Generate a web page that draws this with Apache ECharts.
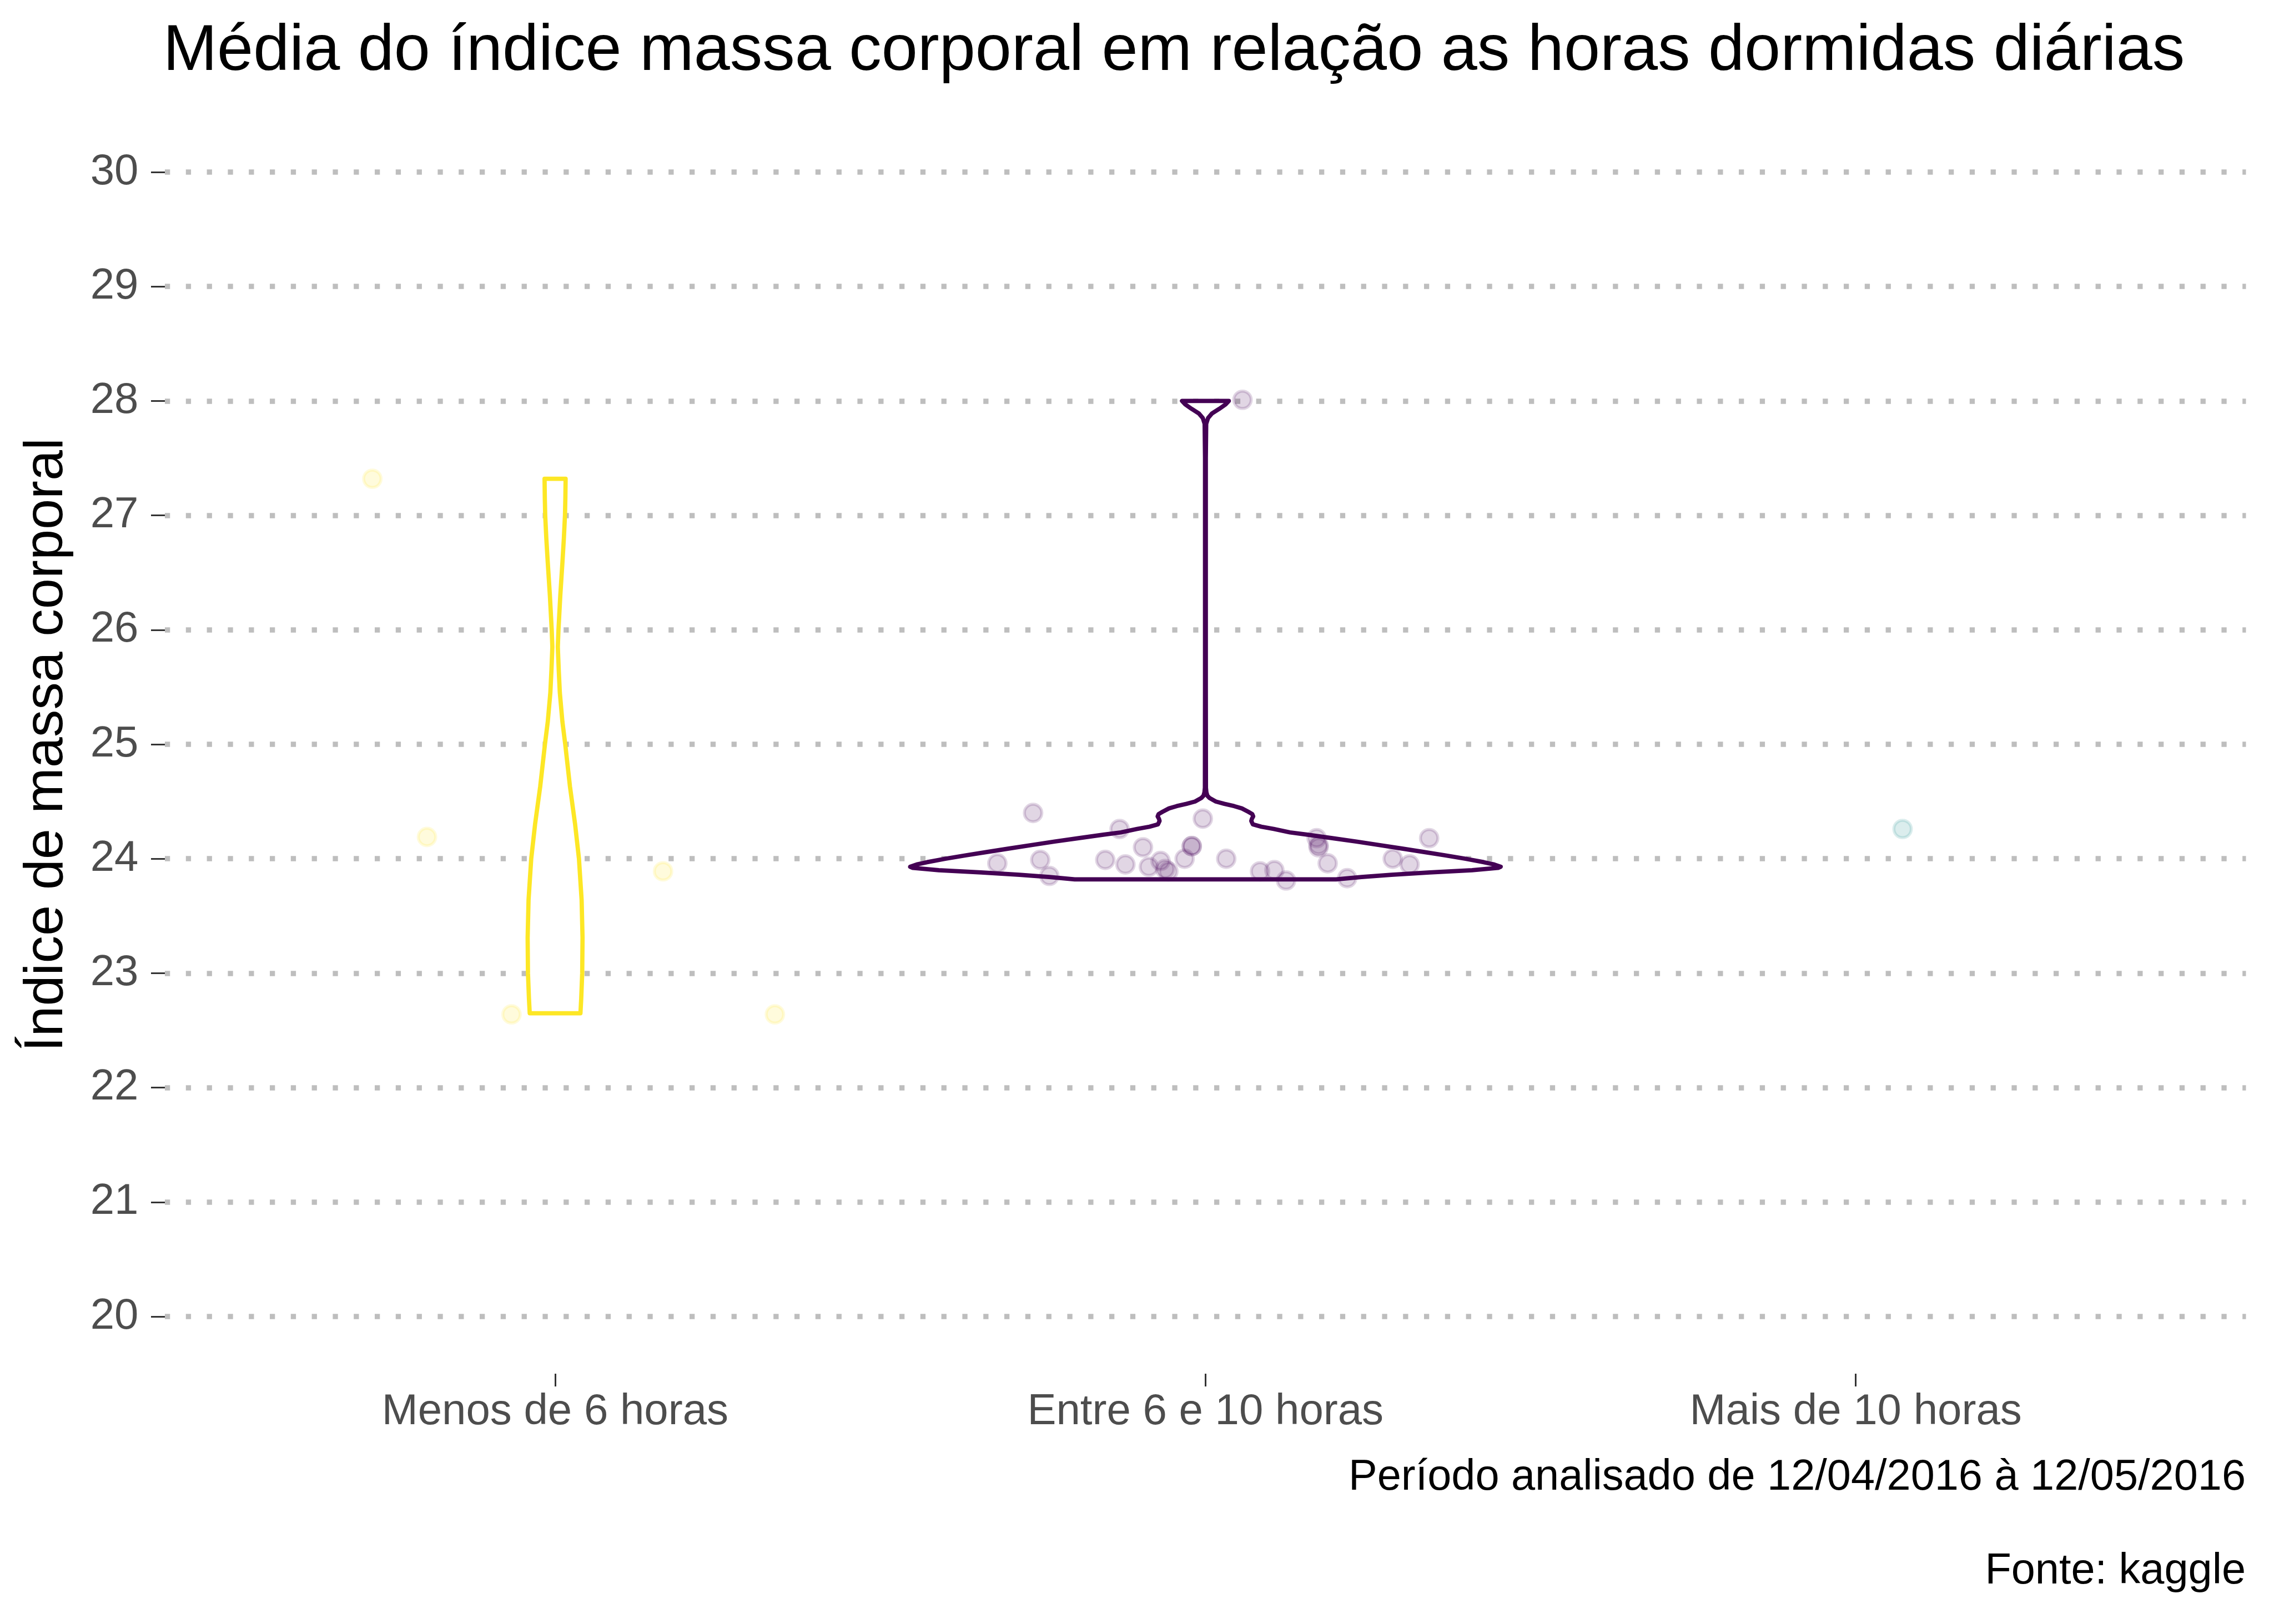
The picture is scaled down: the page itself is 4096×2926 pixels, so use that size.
<!DOCTYPE html>
<html>
<head>
<meta charset="utf-8">
<script src="https://cdn.jsdelivr.net/npm/echarts@6/dist/echarts.min.js"></script>
<style>
html,body{margin:0;padding:0;background:#ffffff;}
#chart{width:4096px;height:2926px;}
</style>
</head>
<body>
<div id="chart"></div>
<script>
// ---------------- DATA ----------------
const categories = ['Menos de 6 horas', 'Entre 6 e 10 horas', 'Mais de 10 horas'];
const groupColors = ['#FDE725', '#440154', '#21908C'];
const yMin = 20, yMax = 30, yStep = 1;

const titleText = 'Média do índice massa corporal em relação as horas dormidas diárias';
const yTitleText = 'Índice de massa corporal';
const captionLine1 = 'Período analisado de 12/04/2016 à 12/05/2016';
const captionLine2 = 'Fonte: kaggle';

// violin outlines: BMI levels (top to bottom) and half widths (in category units)
const violinMenosBmi = [27.32, 27.15, 27.0, 26.8, 26.6, 26.3, 26.0, 25.85, 25.65, 25.45, 25.2, 25.0, 24.63, 24.3, 24.0, 23.64, 23.31, 23.0, 22.78, 22.65];
const violinMenosHalf = [0.0162, 0.0158, 0.0152, 0.0135, 0.0114, 0.0080, 0.0052, 0.0042, 0.0056, 0.0073, 0.0112, 0.0156, 0.0229, 0.0308, 0.0367, 0.0408, 0.0422, 0.0417, 0.0402, 0.0390];

const violinEntreBmi = [28.00, 27.97, 27.93, 27.89, 27.85, 27.80, 27.50, 26.50, 25.50, 24.62, 24.58, 24.55, 24.53, 24.50, 24.48, 24.46, 24.44, 24.41, 24.39, 24.37, 24.35, 24.33, 24.30, 24.28, 24.26, 24.23, 24.21, 24.18, 24.15, 24.12, 24.09, 24.06, 24.03, 24.00, 23.97, 23.95, 23.93, 23.92, 23.90, 23.88, 23.86, 23.84, 23.82];
const violinEntreHalf = [0.036, 0.031, 0.021, 0.010, 0.004, 0.0012, 0.0006, 0.0006, 0.0006, 0.0008, 0.0015, 0.0030, 0.0065, 0.016, 0.029, 0.044, 0.056, 0.066, 0.072, 0.0735, 0.0715, 0.0705, 0.073, 0.086, 0.105, 0.130, 0.157, 0.195, 0.232, 0.267, 0.301, 0.335, 0.368, 0.400, 0.428, 0.444, 0.454, 0.450, 0.410, 0.345, 0.286, 0.240, 0.201];

// jittered points: horizontal offset from category centre, and BMI
const pointsMenosOffset = [-0.281, -0.197, -0.067, 0.166, 0.338];
const pointsMenosBmi    = [27.32, 24.19, 22.64, 23.89, 22.64];

const pointsEntreOffset = [0.057, -0.265, -0.004, -0.132, 0.171, 0.344, 0.174, 0.174, -0.021, -0.021, -0.096, -0.320, -0.254, -0.154, -0.123, -0.087, -0.069, -0.062, -0.057, -0.032, 0.032, -0.240, 0.084, 0.106, 0.124, 0.188, 0.218, 0.288, 0.314];
const pointsEntreBmi    = [28.01, 24.40, 24.35, 24.26, 24.18, 24.18, 24.12, 24.10, 24.11, 24.11, 24.10, 23.96, 23.99, 23.99, 23.95, 23.93, 23.98, 23.91, 23.89, 24.00, 24.00, 23.85, 23.89, 23.90, 23.81, 23.96, 23.83, 24.00, 23.95];

const pointsMaisOffset = [0.072];
const pointsMaisBmi    = [24.26];

// ---------------- CHART ----------------
const FONT = '"Liberation Sans", Arial, Helvetica, sans-serif';
const violins = [
  {bmi: violinMenosBmi, half: violinMenosHalf},
  {bmi: violinEntreBmi, half: violinEntreHalf}
];

function rgba(hex, a) {
  const r = parseInt(hex.slice(1,3),16), g = parseInt(hex.slice(3,5),16), b = parseInt(hex.slice(5,7),16);
  return 'rgba(' + r + ',' + g + ',' + b + ',' + a + ')';
}
function pointData(catIndex, offsets, bmis) {
  return offsets.map((o, i) => [catIndex + 1 + o, bmis[i]]);
}

const chart = echarts.init(document.getElementById('chart'), null, {renderer: 'canvas'});

const gridTop = 310, gridBottom = 554;

const scatterSeries = [
  pointData(0, pointsMenosOffset, pointsMenosBmi),
  pointData(1, pointsEntreOffset, pointsEntreBmi),
  pointData(2, pointsMaisOffset, pointsMaisBmi)
].map((d, i) => ({
  type: 'scatter',
  xAxisIndex: 0, yAxisIndex: 0,
  data: d,
  symbol: 'circle',
  symbolSize: 31.4,
  z: 5,
  silent: true,
  itemStyle: {
    color: rgba(groupColors[i], 0.2),
    borderColor: rgba(groupColors[i], 0.2),
    borderWidth: 5.5
  }
}));

const option = {
  backgroundColor: '#ffffff',
  animation: false,
  grid: [
    {left: 297, right: 50.5, top: gridTop, bottom: gridBottom, containLabel: false},
    {left: 999.9, right: 753.4, top: gridTop, bottom: gridBottom, containLabel: false}
  ],
  xAxis: [
    {gridIndex: 0, type: 'value', min: 0.4, max: 3.6, show: false},
    {
      gridIndex: 1, type: 'value', min: 1, max: 3, interval: 1,
      position: 'bottom', offset: 103,
      axisLine: {show: false},
      axisTick: {show: true, length: 23, lineStyle: {color: '#333333', width: 3}},
      splitLine: {show: false},
      axisLabel: {
        show: true, margin: 30, fontSize: 78, fontFamily: FONT, color: '#4D4D4D',
        formatter: v => categories[Math.round(v) - 1] || ''
      }
    }
  ],
  yAxis: [
    {
      gridIndex: 0, type: 'value', min: yMin, max: yMax, interval: yStep,
      axisLine: {show: false},
      axisTick: {show: true, length: 25, lineStyle: {color: '#333333', width: 3}},
      axisLabel: {show: true, margin: 47.6, fontSize: 78, fontFamily: FONT, color: '#4D4D4D'},
      splitLine: {show: true, lineStyle: {color: '#BEBEBE', width: 9.5, type: [9.3, 28.5]}}
    },
    {gridIndex: 1, type: 'value', min: yMin, max: yMax, show: false}
  ],
  series: [
    {
      type: 'custom',
      xAxisIndex: 0, yAxisIndex: 0,
      z: 3,
      silent: true,
      data: [[1, 25], [2, 25]],
      encode: {x: 0, y: 1},
      renderItem: function (params, api) {
        const cx = api.value(0);
        const idx = Math.round(cx) - 1;
        const v = violins[idx];
        const pts = [];
        for (let k = 0; k < v.bmi.length; k++) pts.push(api.coord([cx + v.half[k], v.bmi[k]]));
        for (let k = v.bmi.length - 1; k >= 0; k--) pts.push(api.coord([cx - v.half[k], v.bmi[k]]));
        return {
          type: 'polygon',
          shape: {points: pts},
          style: {fill: '#ffffff', stroke: groupColors[idx], lineWidth: 7.7, lineJoin: 'round'}
        };
      }
    }
  ].concat(scatterSeries),
  graphic: [
    {
      type: 'text', x: 2114.5, y: 93.5, silent: true,
      style: {text: titleText, fontSize: 117, fontFamily: FONT, fill: '#000000',
              align: 'center', verticalAlign: 'middle'}
    },
    {
      type: 'text', x: 85, y: 1342, rotation: Math.PI / 2, silent: true,
      style: {text: yTitleText, fontSize: 99, fontFamily: FONT, fill: '#000000',
              align: 'center', verticalAlign: 'middle'}
    },
    {
      type: 'text', x: 4045, y: 2663, silent: true,
      style: {text: captionLine1, fontSize: 77.5, fontFamily: FONT, fill: '#000000',
              align: 'right', verticalAlign: 'middle'}
    },
    {
      type: 'text', x: 4045, y: 2832, silent: true,
      style: {text: captionLine2, fontSize: 77.5, fontFamily: FONT, fill: '#000000',
              align: 'right', verticalAlign: 'middle'}
    }
  ]
};

chart.setOption(option);
</script>
</body>
</html>
